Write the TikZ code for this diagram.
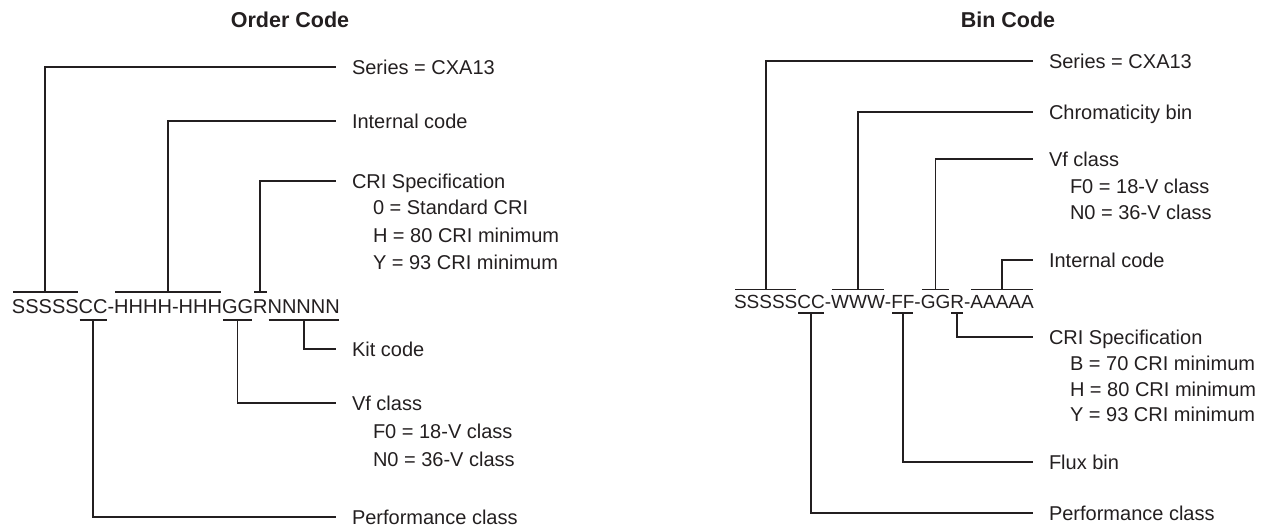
\documentclass[tikz,border=0pt]{standalone}
\usepackage{fontspec}
\setmainfont{Liberation Sans}
\usetikzlibrary{positioning}
\definecolor{ink}{HTML}{231F20}

\begin{document}
\begin{tikzpicture}[x=1pt,y=-1pt,color=ink,
    lead/.style={line width=1.8pt},
    title/.style={font=\fontsize{21.5pt}{26pt}\selectfont\bfseries},
    note/.style={anchor=west, inner sep=0pt, outer sep=0pt, text height=14.4pt, text depth=0pt,
      font=\fontsize{20pt}{24pt}\selectfont},
    item/.style={note, inner xsep=16pt},
    seg/.style={inner xsep=0pt, inner ysep=7pt, outer sep=0pt, text height=14.4pt, text depth=0pt,
      font=\fontsize{20pt}{24pt}\selectfont},
    segb/.style={seg, inner ysep=5pt, text height=13.6pt, font=\fontsize{19pt}{23pt}\selectfont}]
    \useasboundingbox (0,0) rectangle (1281,527);

    % Order Code
    \node[title] (oTitle) at (290,20) {Order Code};
    \node[seg, anchor=base west] (oS) at (12,313) {SSSSS};
    \node[seg, right=0pt of oS] (oC) {CC};
    \node[seg, right=0pt of oC] (oD) {-};
    \node[seg, right=0pt of oD] (oH) {HHHH-HHH};
    \node[seg, right=0pt of oH] (oG) {GG};
    \node[seg, right=0pt of oG] (oR) {R};
    \node[seg, right=0pt of oR] (oN) {NNNNN};
    \foreach \s in {oS,oH,oR}
      \draw[lead] ([xshift=1pt]\s.north west) -- ([xshift=-1pt]\s.north east);
    \foreach \s in {oC,oG,oN}
      \draw[lead] ([xshift=1pt]\s.south west) -- ([xshift=-1pt]\s.south east);

    \node[item] (oSer) at (336,67) {Series = CXA13};
    \node[item] (oInt) at (336,121) {Internal code};
    \node[item] (oCri) at (336,181) {CRI Specification};
    \node[note] (oCriA) at (373,207) {0 = Standard CRI};
    \node[note] (oCriB) at (373,235) {H = 80 CRI minimum};
    \node[note] (oCriC) at (373,262) {Y = 93 CRI minimum};
    \node[item] (oKit) at (336,349) {Kit code};
    \node[item] (oVf) at (336,403) {Vf class};
    \node[note] (oVfA) at (373,431) {F0 = 18-V class};
    \node[note] (oVfB) at (373,459) {N0 = 36-V class};
    \node[item] (oPerf) at (336,517) {Performance class};

    \draw[lead] (oS.north) |- (oSer.west);
    \draw[lead] (oH.north) |- (oInt.west);
    \draw[lead] (oR.north) |- (oCri.west);
    \draw[lead] (oN.south) |- (oKit.west);
    \draw[lead] (oG.south) |- (oVf.west);
    \draw[lead] (oC.south) |- (oPerf.west);

    % Bin Code
    \node[title] (bTitle) at (1008,20) {Bin Code};
    \node[segb, anchor=base west] (bS) at (734,308) {SSSSS};
    \node[segb, right=0pt of bS] (bC) {CC};
    \node[segb, right=0pt of bC] (bDa) {-};
    \node[segb, right=0pt of bDa] (bW) {WWW};
    \node[segb, right=0pt of bW] (bDb) {-};
    \node[segb, right=0pt of bDb] (bF) {FF};
    \node[segb, right=0pt of bF] (bDc) {-};
    \node[segb, right=0pt of bDc] (bG) {GG};
    \node[segb, right=0pt of bG] (bR) {R};
    \node[segb, right=0pt of bR] (bDd) {-};
    \node[segb, right=0pt of bDd] (bA) {AAAAA};
    \foreach \s in {bS,bW,bG,bA}
      \draw[lead] ([xshift=1pt]\s.north west) -- ([xshift=-1pt]\s.north east);
    \foreach \s in {bC,bF,bR}
      \draw[lead] ([xshift=1pt]\s.south west) -- ([xshift=-1pt]\s.south east);

    \node[item] (bSer) at (1033,61) {Series = CXA13};
    \node[item] (bChr) at (1033,112) {Chromaticity bin};
    \node[item] (bVf) at (1033,159) {Vf class};
    \node[note] (bVfA) at (1070,186) {F0 = 18-V class};
    \node[note] (bVfB) at (1070,212) {N0 = 36-V class};
    \node[item] (bInt) at (1033,260) {Internal code};
    \node[item] (bCri) at (1033,337) {CRI Specification};
    \node[note] (bCriA) at (1070,363) {B = 70 CRI minimum};
    \node[note] (bCriB) at (1070,389) {H = 80 CRI minimum};
    \node[note] (bCriC) at (1070,414) {Y = 93 CRI minimum};
    \node[item] (bFlux) at (1033,462) {Flux bin};
    \node[item] (bPerf) at (1033,513) {Performance class};

    \draw[lead] (bS.north) |- (bSer.west);
    \draw[lead] (bW.north) |- (bChr.west);
    \draw[lead] (bG.north) |- (bVf.west);
    \draw[lead] (bA.north) |- (bInt.west);
    \draw[lead] (bR.south) |- (bCri.west);
    \draw[lead] (bF.south) |- (bFlux.west);
    \draw[lead] (bC.south) |- (bPerf.west);
\end{tikzpicture}
\end{document}
